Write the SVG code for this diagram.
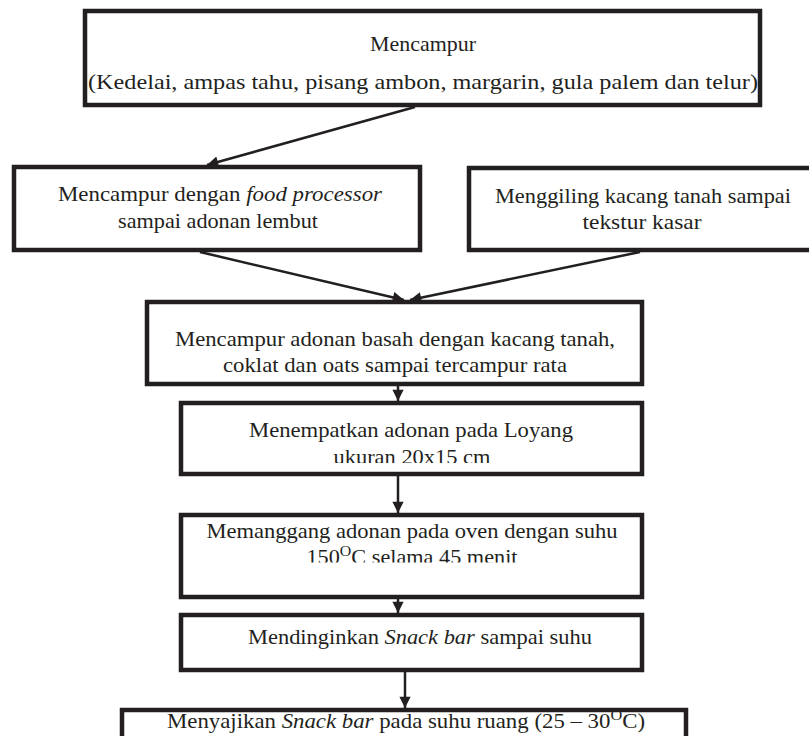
<svg xmlns="http://www.w3.org/2000/svg" width="809" height="736" viewBox="0 0 809 736">
<style>
.box{fill:#fff;stroke:#231f20;stroke-width:4.5}
.t{font-family:"Liberation Serif","Times New Roman",serif;font-size:21px;fill:#231f20;text-anchor:middle}
.i{font-style:italic}
.c{stroke:#231f20;stroke-width:2.5;fill:none;marker-end:url(#ah)}
</style>
<defs>
<marker id="ah" viewBox="0 0 10 10" refX="10" refY="5" markerWidth="5" markerHeight="4.5" markerUnits="strokeWidth" orient="auto">
<path d="M0,0 L10,5 L0,10 z" fill="#231f20"/>
</marker>
<clipPath id="c5"><rect x="181" y="403" width="461" height="60"/></clipPath>
<clipPath id="c6"><rect x="181" y="515" width="461" height="47.5"/></clipPath>
</defs>
<g id="n1">
<rect class="box" x="85" y="11" width="675" height="94"/>
<text class="t" x="423" y="51" textLength="106" lengthAdjust="spacingAndGlyphs">Mencampur</text>
<text class="t" x="423" y="89" textLength="670" lengthAdjust="spacingAndGlyphs">(Kedelai, ampas tahu, pisang ambon, margarin, gula palem dan telur)</text>
</g>
<g id="n2">
<rect class="box" x="14" y="167" width="406" height="83"/>
<text class="t" x="220" y="201" textLength="324" lengthAdjust="spacingAndGlyphs">Mencampur dengan <tspan class="i">food processor</tspan></text>
<text class="t" x="218" y="228" textLength="200" lengthAdjust="spacingAndGlyphs">sampai adonan lembut</text>
</g>
<g id="n3">
<rect class="box" x="469" y="168" width="350" height="82"/>
<text class="t" x="643" y="203" textLength="296" lengthAdjust="spacingAndGlyphs">Menggiling kacang tanah sampai</text>
<text class="t" x="642" y="229" textLength="119" lengthAdjust="spacingAndGlyphs">tekstur kasar</text>
</g>
<g id="n4">
<rect class="box" x="147" y="302" width="495" height="82"/>
<text class="t" x="395" y="346" textLength="440" lengthAdjust="spacingAndGlyphs">Mencampur adonan basah dengan kacang tanah,</text>
<text class="t" x="395" y="372" textLength="344" lengthAdjust="spacingAndGlyphs">coklat dan oats sampai tercampur rata</text>
</g>
<g id="n5">
<rect class="box" x="181" y="403" width="461" height="71"/>
<g clip-path="url(#c5)">
<text class="t" x="411" y="437" textLength="324" lengthAdjust="spacingAndGlyphs">Menempatkan adonan pada Loyang</text>
<text class="t" x="412" y="464" textLength="157" lengthAdjust="spacingAndGlyphs">ukuran 20x15 cm</text>
</g>
</g>
<g id="n6">
<rect class="box" x="181" y="515" width="461" height="82"/>
<g clip-path="url(#c6)">
<text class="t" x="412" y="538" textLength="411" lengthAdjust="spacingAndGlyphs">Memanggang adonan pada oven dengan suhu</text>
<text class="t" x="412" y="564" textLength="211" lengthAdjust="spacingAndGlyphs">150<tspan dy="-8" font-size="15">O</tspan><tspan dy="8">C selama 45 menit</tspan></text>
</g>
</g>
<g id="n7">
<rect class="box" x="181" y="615" width="461" height="55"/>
<text class="t" x="420" y="644" textLength="344" lengthAdjust="spacingAndGlyphs">Mendinginkan <tspan class="i">Snack bar</tspan> sampai suhu</text>
</g>
<g id="n8">
<rect class="box" x="122" y="710" width="564" height="60"/>
<text class="t" x="406" y="728" textLength="478" lengthAdjust="spacingAndGlyphs">Menyajikan <tspan class="i">Snack bar</tspan> pada suhu ruang (25 – 30<tspan dy="-8" font-size="15">O</tspan><tspan dy="8">C)</tspan></text>
</g>
<g id="connectors">
<line class="c" x1="415" y1="107" x2="207" y2="165"/>
<line class="c" x1="200" y1="252" x2="404" y2="300"/>
<line class="c" x1="640" y1="252" x2="410" y2="300"/>
<line class="c" x1="398" y1="386" x2="398" y2="401"/>
<line class="c" x1="398" y1="476" x2="398" y2="513"/>
<line class="c" x1="398" y1="599" x2="398" y2="613"/>
<line class="c" x1="405" y1="672" x2="405" y2="708"/>
</g>
</svg>
